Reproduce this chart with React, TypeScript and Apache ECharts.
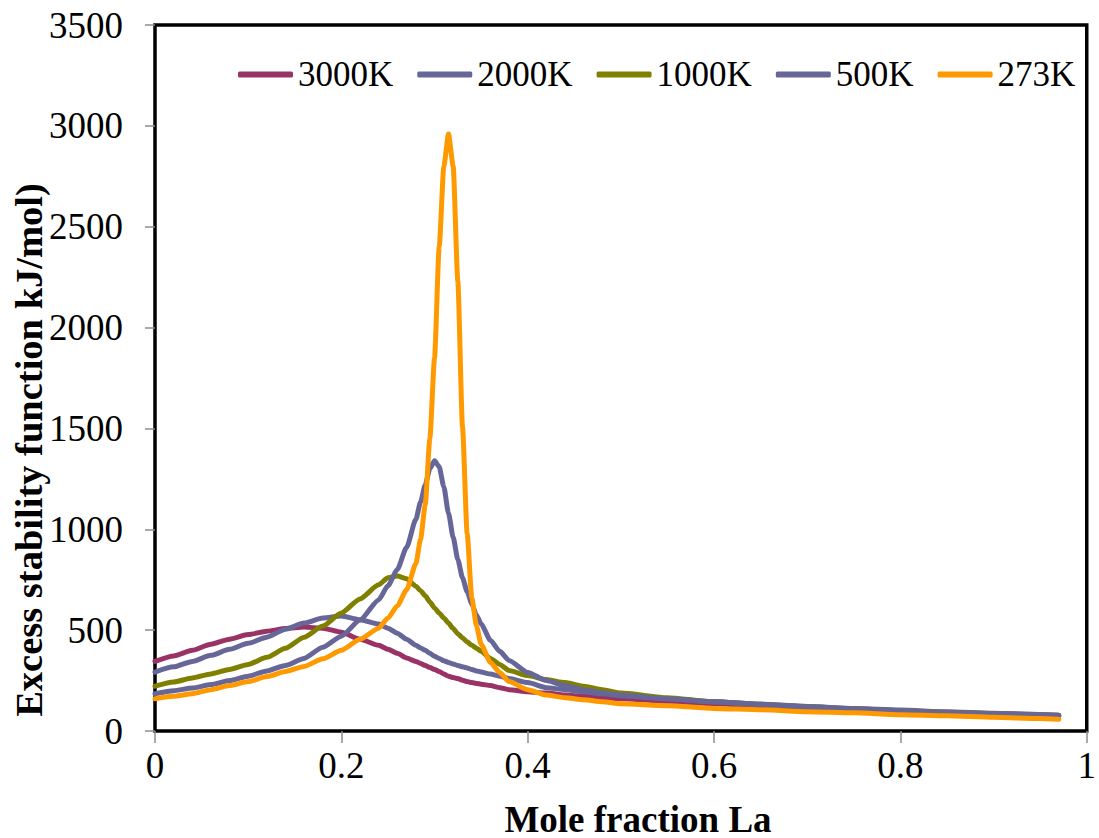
import React, { useEffect, useRef } from "react";
import * as echarts from "echarts";

const moleFraction = [
  0, 0.02, 0.04, 0.06, 0.08, 0.1, 0.12, 0.14, 0.16, 0.18, 0.2, 0.22, 0.24, 0.25, 0.26, 0.27, 0.28, 0.285, 0.29,
  0.295, 0.3, 0.305, 0.31, 0.315, 0.32, 0.325, 0.33, 0.335, 0.34, 0.345, 0.35, 0.36, 0.37, 0.38, 0.4, 0.42, 0.44,
  0.46, 0.48, 0.5, 0.55, 0.6, 0.65, 0.7, 0.75, 0.8, 0.85, 0.9, 0.95, 0.97,
];

const t3000K = [
  345, 372, 400, 430, 455, 478, 495, 508, 515, 510, 490, 455, 425, 405, 385, 362, 345, 335, 325,
  315, 305, 295, 282, 272, 265, 260, 252, 245, 240, 236, 232, 225, 215, 205, 195, 188, 178,
  172, 165, 160, 148, 135, 125, 115, 108, 100, 92, 85, 80, 78,
];

const t2000K = [
  292, 318, 345, 375, 405, 435, 465, 505, 535, 560, 570, 552, 530, 510, 485, 455, 425, 412, 400,
  385, 370, 360, 348, 340, 332, 325, 318, 312, 305, 298, 292, 282, 272, 260, 240, 215, 205,
  195, 185, 175, 160, 145, 133, 122, 112, 104, 95, 88, 82, 78,
];

const t1000K = [
  222, 243, 263, 283, 305, 330, 365, 410, 465, 520, 585, 655, 725, 760, 768, 755, 718, 695, 670,
  640, 610, 585, 560, 535, 508, 482, 462, 442, 425, 410, 395, 360, 330, 300, 275, 255, 240,
  222, 205, 188, 165, 145, 133, 120, 110, 100, 93, 85, 78, 75,
];

const t500K = [
  185, 200, 213, 230, 250, 272, 298, 325, 360, 415, 470, 550, 650, 720, 800, 910, 1050, 1135, 1220,
  1300, 1340, 1310, 1210, 1080, 960, 850, 760, 690, 630, 575, 530, 450, 395, 350, 290, 250, 225,
  205, 190, 178, 160, 145, 132, 120, 110, 100, 92, 85, 78, 75,
];

const t273K = [
  160, 172, 185, 205, 225, 245, 270, 295, 320, 358, 400, 455, 510, 560, 620, 700, 830, 950, 1120,
  1450, 1850, 2400, 2800, 2960, 2800, 2230, 1510, 980, 660, 520, 430, 340, 290, 245, 205, 178, 165,
  155, 145, 135, 125, 112, 105, 95, 90, 80, 75, 68, 62, 58,
];

const seriesNames = ["3000K", "2000K", "1000K", "500K", "273K"];
const seriesValues = [t3000K, t2000K, t1000K, t500K, t273K];
const seriesColors = ["#993366", "#666699", "#808000", "#666699", "#FF9900"];

const FONT = "'Liberation Serif', 'Times New Roman', serif";

export default function App() {
  const ref = useRef<HTMLDivElement>(null);

  useEffect(() => {
    if (!ref.current) return;
    const chart = echarts.init(ref.current, undefined, { renderer: "svg" });
    chart.setOption({
      animation: false,
      backgroundColor: "#ffffff",
      textStyle: { fontFamily: FONT },
      grid: {
        left: 155,
        top: 25,
        right: 7,
        bottom: 107,
        show: true,
        borderColor: "#000000",
        borderWidth: 3.5,
        backgroundColor: "transparent",
      },
      legend: {
        left: 233,
        top: 52,
        itemWidth: 55,
        itemHeight: 6,
        itemGap: 24,
        icon: "roundRect",
        data: seriesNames,
        textStyle: { fontFamily: FONT, fontSize: 35, color: "#000" },
      },
      xAxis: {
        type: "value",
        min: 0,
        max: 1,
        interval: 0.2,
        axisLine: { show: false },
        axisTick: { show: true, length: 12, lineStyle: { color: "#8c8c8c", width: 1.5 } },
        splitLine: { show: false },
        axisLabel: { fontFamily: FONT, fontSize: 37, color: "#000", margin: 16 },
      },
      yAxis: {
        type: "value",
        min: 0,
        max: 3500,
        interval: 500,
        axisLine: { show: false },
        axisTick: { show: true, length: 10, lineStyle: { color: "#8c8c8c", width: 1.5 } },
        splitLine: { show: false },
        axisLabel: {
          fontFamily: FONT,
          fontSize: 37,
          color: "#000",
          margin: 32,
          formatter: (v: number) => String(v),
        },
      },
      graphic: [
        {
          type: "text",
          x: 29,
          y: 450,
          rotation: Math.PI / 2,
          style: {
            text: "Excess stability function kJ/mol)",
            fontFamily: FONT,
            fontSize: 38.5,
            fontWeight: "bold",
            fill: "#000",
            textAlign: "center",
            textVerticalAlign: "middle",
          },
        },
        {
          type: "text",
          x: 638,
          y: 819,
          style: {
            text: "Mole fraction La",
            fontFamily: FONT,
            fontSize: 37,
            fontWeight: "bold",
            fill: "#000",
            textAlign: "center",
            textVerticalAlign: "middle",
          },
        },
      ],
      series: seriesNames.map((name, i) => ({
        name,
        type: "line",
        showSymbol: false,
        symbol: "none",
        smooth: 0.2,
        smoothMonotone: "x",
        color: seriesColors[i],
        lineStyle: { width: 5, color: seriesColors[i], cap: "round", join: "round" },
        data: moleFraction.map((x, j) => [x, seriesValues[i][j]]),
      })),
    });
    return () => chart.dispose();
  }, []);

  return <div ref={ref} style={{ width: 1099, height: 838, position: "absolute", left: 0, top: 0 }} />;
}
